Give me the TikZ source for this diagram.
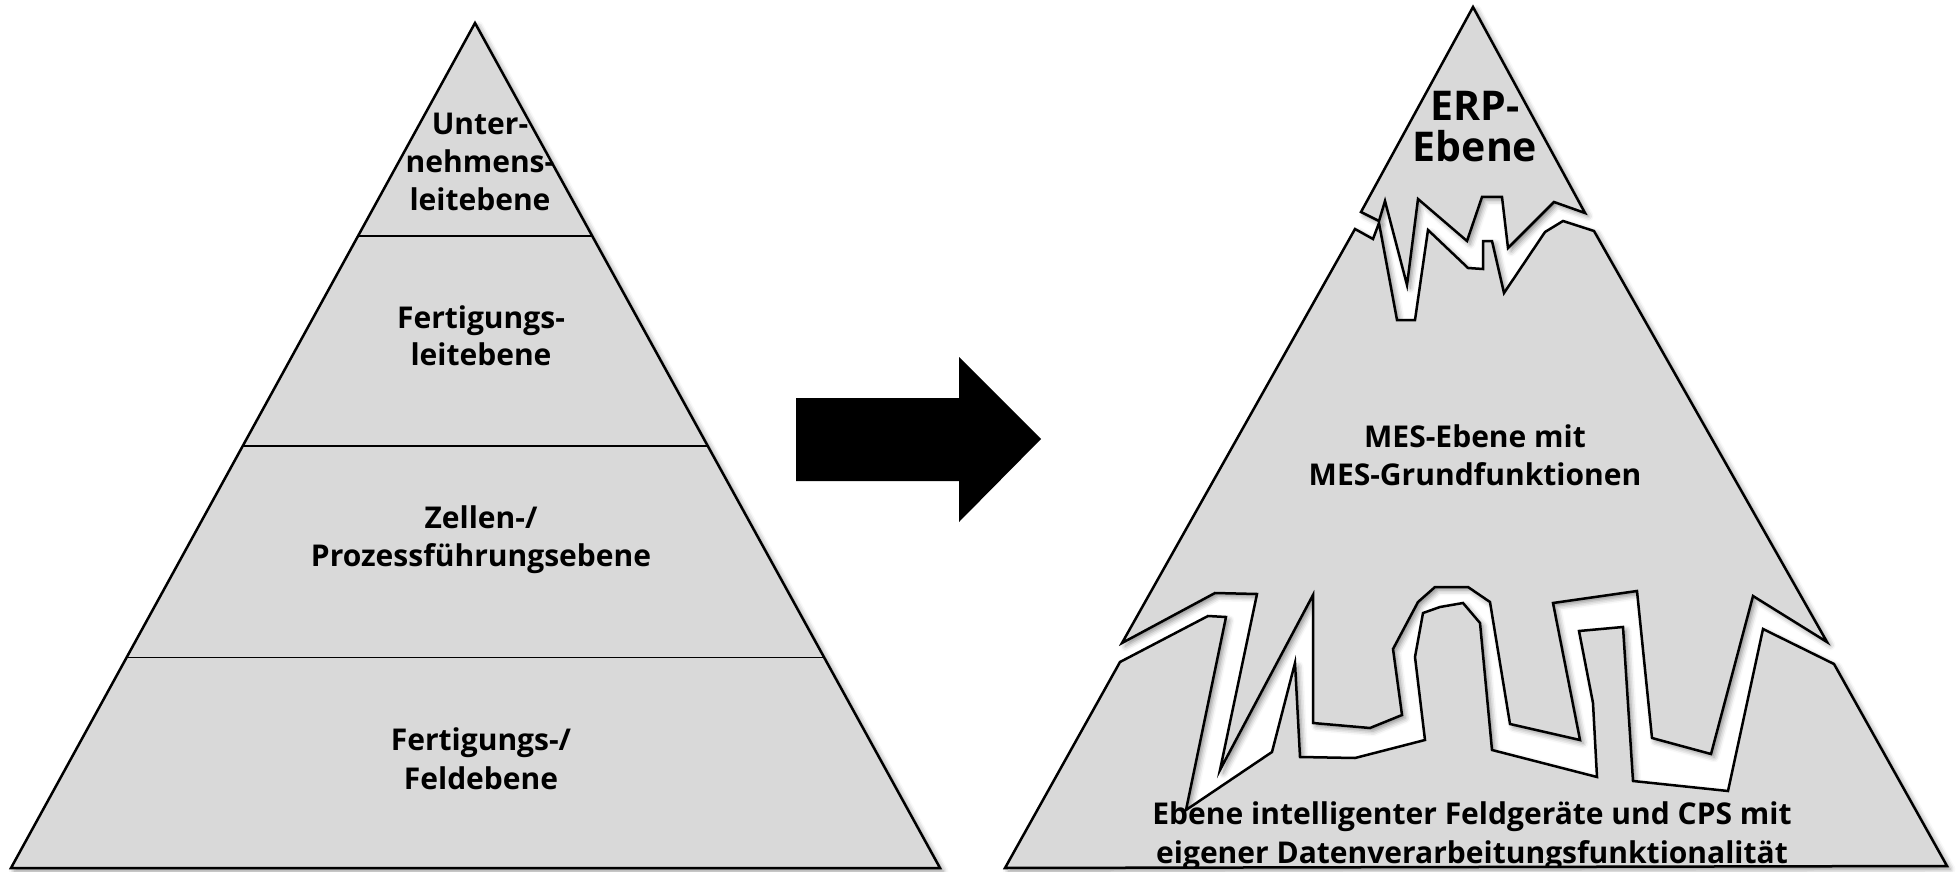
\documentclass[tikz,border=0pt]{standalone}
\usepackage{fontspec}
\setmainfont{Open Sans}
\usetikzlibrary{calc,shadows.blur}

\definecolor{layergray}{RGB}{217,217,217}

\tikzset{
  % one pixel of the drawing grid is half a point, y grows downwards
  softshadow/.style={blur shadow={shadow xshift=1.6pt, shadow yshift=-1.6pt,
      shadow blur radius=2.6pt, shadow opacity=45}},
  layerfill/.style={fill=layergray},
  layeredge/.style={draw=black, line width=1.25pt, line join=miter},
  divider/.style={draw=black, line width=0.9pt},
  lbl/.style={font=\bfseries\fontsize{15}{19}\selectfont, inner sep=0pt, anchor=base},
  biglbl/.style={font=\bfseries\fontsize{20.5}{20}\selectfont, inner sep=0pt, anchor=base},
  % the three broken layers of the right pyramid
  erp piece/.style={insert path={(1473,7) -- (1361,212) -- (1379,221) -- (1385,201)
      -- (1407,285) -- (1418,199) -- (1467,241) -- (1482,197) -- (1502,197)
      -- (1508,248) -- (1554,202) -- (1585,213) -- cycle}},
  mes piece/.style={insert path={(1355,229) -- (1373,239) -- (1379,223) -- (1397,320)
      -- (1415,320) -- (1428,230) -- (1468,268) -- (1483,269) -- (1483,241)
      -- (1492,241) -- (1504,293) -- (1545,232) -- (1563,221) -- (1594,231)
      -- (1827,642) -- (1753,596) -- (1711,754) -- (1652,738) -- (1637,591)
      -- (1553,603) -- (1580,740) -- (1510,724) -- (1490,602) -- (1468,587)
      -- (1435,587) -- (1418,602) -- (1393,649) -- (1402,715) -- (1370,728)
      -- (1313,723) -- (1313,595) -- (1220,770) -- (1257,594) -- (1215,593)
      -- (1122,643) -- cycle}},
  field piece/.style={insert path={(1120,662) -- (1208,616) -- (1226,617) -- (1186,810)
      -- (1272,752) -- (1295,663) -- (1300,757) -- (1355,758) -- (1425,740)
      -- (1415,657) -- (1423,613) -- (1440,607) -- (1463,603) -- (1480,623)
      -- (1492,750) -- (1597,777) -- (1593,703) -- (1579,631) -- (1623,627)
      -- (1633,781) -- (1728,791) -- (1763,629) -- (1834,664) -- (1947,866)
      -- (1005,868) -- cycle}},
}

\begin{document}
\begin{tikzpicture}[x=0.5pt,y=-0.5pt]
\useasboundingbox (0,0) rectangle (1956,872);

% ---------- left pyramid: classic automation pyramid ----------
\coordinate (apex) at (475,23);
\coordinate (bl) at (11,868);
\coordinate (br) at (940,868);
\path[softshadow, layerfill, layeredge] (apex) -- (br) -- (bl) -- cycle;
\foreach \t in {0.2521,0.5006,0.7509}
  \draw[divider] ($(apex)!\t!(bl)$) -- ($(apex)!\t!(br)$);

\node[lbl] (unt1) at (480,135) {Unter-};
\node[lbl] (unt2) at (480,173) {nehmens-};
\node[lbl] (unt3) at (480,211) {leitebene};
\node[lbl] (fl1) at (481,328) {Fertigungs-};
\node[lbl] (fl2) at (481,365) {leitebene};
\node[lbl] (zp1) at (481,528) {Zellen-/};
\node[lbl] (zp2) at (481,566) {Prozessführungsebene};
\node[lbl] (fe1) at (481,750) {Fertigungs-/};
\node[lbl] (fe2) at (481,789) {Feldebene};

% ---------- transition arrow ----------
\fill[black] (796,398) -- (959,398) -- (959,357) -- (1041,439)
  -- (959,522) -- (959,481) -- (796,481) -- cycle;

% ---------- right pyramid: broken-up layers ----------
\path[softshadow, field piece];
\path[softshadow, mes piece];
\path[softshadow, erp piece];
\path[layerfill, field piece];
\path[layerfill, mes piece];
\path[layerfill, erp piece];

\node[biglbl] (erp1) at (1475,121) {ERP-};
\node[biglbl] (erp2) at (1475,162) {Ebene};
\node[lbl] (mes1) at (1475,447) {MES-Ebene mit};
\node[lbl] (mes2) at (1475,485) {MES-Grundfunktionen};
\begin{scope}
  \clip[field piece];
  \node[lbl] (cps1) at (1472,824) {Ebene intelligenter Feldgeräte und CPS mit};
  \node[lbl] (cps2) at (1472,863) {eigener Datenverarbeitungsfunktionalität};
\end{scope}

\path[layeredge, field piece];
\path[layeredge, mes piece];
\path[layeredge, erp piece];
\end{tikzpicture}
\end{document}
